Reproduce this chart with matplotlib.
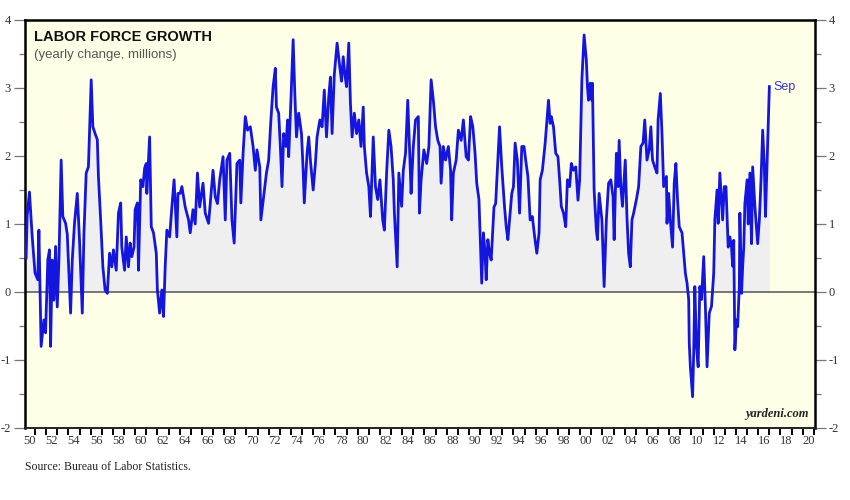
import matplotlib
matplotlib.use("Agg")
import matplotlib.pyplot as plt
import numpy as np

plt.rcParams["axes.unicode_minus"] = False

years = [
1950.2,1950.3,1950.5,1950.75,1951.0,1951.25,1951.35,1951.55,1951.8,1951.95,
1952.15,1952.3,1952.4,1952.55,1952.7,1952.85,1953.0,1953.15,1953.35,1953.5,
1953.75,1953.9,1954.05,1954.2,1954.35,1954.55,1954.8,1955.0,1955.25,1955.4,
1955.6,1955.8,1956.05,1956.2,1956.4,1956.6,1956.7,1956.9,1957.1,1957.3,
1957.5,1957.7,1957.9,1958.05,1958.3,1958.5,1958.7,1958.8,1959.05,1959.2,
1959.4,1959.55,1959.7,1959.9,1960.0,1960.2,1960.3,1960.5,1960.7,1960.85,
1961.0,1961.05,1961.3,1961.45,1961.65,1961.9,1962.0,1962.2,1962.4,1962.55,
1962.7,1962.85,1963.1,1963.3,1963.5,1963.75,1963.85,1964.05,1964.2,1964.5,
1964.8,1964.95,1965.2,1965.4,1965.6,1965.8,1966.1,1966.3,1966.6,1967.0,
1967.2,1967.4,1967.6,1967.9,1968.1,1968.25,1968.5,1968.7,1968.9,1969.15,
1969.4,1969.5,1969.7,1969.9,1970.1,1970.35,1970.6,1970.8,1970.95,1971.2,
1971.3,1971.55,1971.8,1972.0,1972.2,1972.4,1972.6,1972.7,1972.9,1973.05,
1973.2,1973.35,1973.55,1973.7,1973.8,1974.0,1974.2,1974.35,1974.5,1974.7,
1974.95,1975.1,1975.2,1975.45,1975.6,1975.75,1976.0,1976.2,1976.35,1976.6,
1976.8,1977.0,1977.2,1977.4,1977.55,1977.7,1977.9,1978.15,1978.4,1978.55,
1978.7,1978.85,1979.0,1979.2,1979.35,1979.5,1979.7,1979.9,1980.1,1980.3,
1980.5,1980.6,1980.8,1981.0,1981.15,1981.4,1981.6,1981.8,1982.0,1982.25,
1982.4,1982.6,1982.8,1983.0,1983.2,1983.3,1983.55,1983.7,1983.95,1984.1,
1984.3,1984.5,1984.7,1984.8,1985.0,1985.2,1985.45,1985.55,1985.7,1985.95,
1986.2,1986.4,1986.6,1986.8,1987.0,1987.2,1987.4,1987.5,1987.7,1987.9,
1988.15,1988.35,1988.45,1988.6,1988.85,1989.05,1989.3,1989.5,1989.75,1989.95,
1990.15,1990.35,1990.55,1990.7,1990.9,1991.15,1991.3,1991.45,1991.55,1991.7,
1991.85,1992.0,1992.25,1992.4,1992.6,1992.75,1992.95,1993.2,1993.35,1993.5,
1993.65,1993.85,1994.0,1994.15,1994.35,1994.55,1994.75,1994.95,1995.1,1995.3,
1995.5,1995.7,1995.9,1996.1,1996.3,1996.4,1996.6,1996.85,1997.15,1997.3,
1997.4,1997.6,1997.8,1998.0,1998.15,1998.3,1998.5,1998.7,1998.85,1999.05,
1999.2,1999.4,1999.6,1999.8,1999.95,2000.15,2000.35,2000.55,2000.65,2000.75,
2000.9,2001.05,2001.1,2001.25,2001.45,2001.55,2001.7,2001.95,2002.15,2002.35,
2002.55,2002.75,2002.95,2003.05,2003.25,2003.4,2003.5,2003.65,2003.8,2004.05,
2004.2,2004.35,2004.5,2004.65,2004.8,2005.05,2005.25,2005.45,2005.65,2005.8,
2006.0,2006.2,2006.35,2006.5,2006.7,2006.9,2007.0,2007.2,2007.35,2007.5,
2007.75,2007.8,2007.95,2008.1,2008.3,2008.45,2008.6,2008.75,2008.9,2009.15,
2009.3,2009.45,2009.6,2009.75,2009.8,2009.9,2010.1,2010.2,2010.3,2010.45,
2010.6,2010.75,2010.9,2011.1,2011.25,2011.4,2011.6,2011.8,2012.0,2012.1,
2012.3,2012.4,2012.55,2012.8,2012.95,2013.1,2013.3,2013.45,2013.6,2013.7,
2013.8,2013.9,2014.05,2014.15,2014.3,2014.35,2014.5,2014.6,2014.7,2014.8,
2015.0,2015.1,2015.25,2015.4,2015.5,2015.7,2015.95,2016.1,2016.25,2016.4,
2016.55,2016.65,2016.85,2017.0,
]

growth = [
0.50,1.13,1.47,0.81,0.28,0.18,0.91,-0.80,-0.41,-0.60,
0.47,0.62,-0.80,0.47,-0.12,0.67,-0.22,0.47,1.94,1.11,
1.01,0.85,0.28,-0.31,0.47,1.01,1.45,0.76,-0.31,0.87,
1.75,1.84,3.12,2.43,2.33,2.24,1.70,1.06,0.37,0.03,
-0.02,0.57,0.37,0.62,0.32,1.16,1.31,0.66,0.32,0.81,
0.37,0.72,0.52,0.66,1.21,1.31,0.32,1.65,1.55,1.82,
1.89,1.45,2.28,0.96,0.87,0.57,0.03,-0.31,0.03,-0.36,
0.37,0.91,0.81,1.25,1.65,0.81,1.45,1.45,1.55,1.25,
1.06,0.87,1.21,1.00,1.75,1.25,1.60,1.16,1.01,1.79,
1.40,1.30,1.65,1.99,1.06,1.94,2.04,1.06,0.72,1.89,
1.94,1.31,2.04,2.58,2.38,2.43,2.14,1.79,2.09,1.84,
1.06,1.40,1.75,1.94,2.53,3.02,3.29,2.72,2.63,2.14,
1.55,2.33,2.14,2.53,1.99,2.82,3.71,2.92,2.28,2.63,
2.33,1.79,1.31,2.04,2.28,1.94,1.50,1.89,2.28,2.53,
2.43,2.97,2.28,2.87,3.16,2.33,3.20,3.66,3.30,3.10,
3.46,3.20,3.02,3.66,2.77,2.28,2.63,2.33,2.53,2.14,
2.72,2.14,1.75,1.55,1.11,2.28,1.55,1.36,1.65,1.06,
0.91,1.75,2.38,2.14,1.65,1.16,0.37,1.75,1.26,1.79,
2.04,2.82,1.94,1.45,2.14,2.53,2.58,1.16,1.65,2.09,
1.89,2.14,3.12,2.82,2.43,2.23,2.14,1.60,2.14,1.94,
2.14,1.79,1.06,1.75,1.94,2.38,2.23,2.53,1.99,1.94,
2.58,2.43,2.04,1.60,1.36,0.13,0.87,0.57,0.18,0.77,
0.57,0.47,1.25,1.30,1.94,2.43,1.84,1.25,0.96,0.77,
1.06,1.45,1.55,2.19,1.94,1.16,2.14,2.14,1.94,1.70,
1.06,1.11,0.82,0.57,0.87,1.65,1.79,2.19,2.82,2.48,
2.58,2.43,2.04,1.99,1.65,1.26,1.16,0.96,1.65,1.55,
1.89,1.79,1.84,1.35,1.65,3.12,3.78,3.41,3.02,2.82,
3.07,2.82,3.07,1.50,0.91,0.77,1.45,1.06,0.08,1.06,
1.60,1.65,1.40,0.77,2.04,1.55,2.23,1.55,1.26,1.94,
1.11,0.57,0.37,1.06,1.16,1.36,1.55,2.14,2.19,2.53,
1.94,2.09,2.43,1.94,1.84,1.75,2.53,2.92,2.33,1.55,
1.70,1.01,1.45,1.06,0.66,1.60,1.89,1.35,0.96,0.87,
0.57,0.28,0.13,-0.11,-0.75,-1.10,-1.54,-0.90,0.08,-0.80,
-1.10,0.08,-0.11,0.52,-0.21,-1.10,-0.31,-0.21,0.28,1.06,
1.50,1.01,1.75,1.06,1.55,1.55,0.66,0.81,0.66,0.38,
0.76,-0.85,-0.41,-0.51,0.08,1.16,-0.02,0.37,0.66,1.30,
1.65,1.00,1.75,0.71,1.84,1.26,0.71,1.06,1.65,2.38,
1.84,1.11,2.23,3.02,
]

tick_years = list(range(1950, 2021, 2))
tick_labels = [f"{y % 100:02d}" for y in tick_years]
y_ticks = [-2, -1, 0, 1, 2, 3, 4]

title = "LABOR FORCE GROWTH"
subtitle = "(yearly change, millions)"
last_label = "Sep"
source = "Source: Bureau of Labor Statistics."
credit = "yardeni.com"

x = np.array(years)
y = np.array(growth)

fig = plt.figure(figsize=(8.5, 5.0), dpi=100)
fig.patch.set_facecolor("white")
ax = fig.add_axes([0.0294, 0.144, 0.9294, 0.816])
ax.set_facecolor("#FFFFE8")

ax.fill_between(x, 0, np.clip(y, 0, None), color="#EFEFEF", lw=0, zorder=1)
ax.axhline(0, color="#555555", lw=1.1, zorder=2)
ax.plot(x, y, color="#1515E0", lw=2.0, zorder=3, solid_joinstyle="round")

ax.set_xlim(1950.1, 2021.1)
ax.set_ylim(-2, 4)

# y axis ticks both sides
ax.set_yticks(y_ticks)
ax.set_yticklabels([str(v) for v in y_ticks])
ax.set_yticks(np.arange(-1.5, 4, 1.0), minor=True)
ax.tick_params(axis="y", which="major", left=True, right=True, labelleft=True,
               labelright=True, direction="out", length=8, width=0.9,
               color="#777777", labelsize=9, labelcolor="#333333", pad=2)
ax.tick_params(axis="y", which="minor", left=True, right=True, direction="out",
               length=4, width=0.9, color="#777777")

# x axis: yearly ticks, labels between
ax.set_xticks(np.arange(1951, 2022, 1))
ax.set_xticklabels([])
ax.tick_params(axis="x", which="major", direction="out", length=5, width=1.4,
               color="black")
ax.set_xticks([t + 0.5 for t in tick_years], minor=True)
ax.set_xticklabels(tick_labels, minor=True)
ax.tick_params(axis="x", which="minor", length=0, labelsize=9,
               labelcolor="#333333", pad=5)

for lab in (ax.get_xticklabels(minor=True) + ax.get_yticklabels()
            + ax.yaxis.get_ticklabels(which="major")):
    lab.set_fontfamily("Liberation Serif")
for t in ax.yaxis.get_major_ticks():
    t.label2.set_fontfamily("Liberation Serif")

for s in ["left", "right", "top"]:
    ax.spines[s].set_linewidth(1.8)
    ax.spines[s].set_color("black")
ax.spines["bottom"].set_linewidth(1.4)
ax.spines["bottom"].set_color("#222222")

ax.text(0.012, 0.975, title, transform=ax.transAxes, fontsize=10.5,
        fontweight="bold", family="Liberation Sans", color="#111111",
        va="top", ha="left")
ax.text(0.012, 0.928, subtitle, transform=ax.transAxes, fontsize=9.5,
        family="Liberation Sans", color="#555555", va="top", ha="left")
ax.annotate(last_label, xy=(x[-1], y[-1]), xytext=(3, 0),
            textcoords="offset points", fontsize=9, color="#3535D0",
            family="Liberation Sans", va="center", ha="left")
ax.text(0.992, 0.02, credit, transform=ax.transAxes, fontsize=9,
        family="Liberation Serif", style="italic", fontweight="bold",
        color="#222222", ha="right", va="bottom")
fig.text(25 / 850, 1 - 467 / 500, source, fontsize=8.5,
         family="Liberation Serif", color="#222222", ha="left", va="center")

fig.savefig("out.png", dpi=100)
